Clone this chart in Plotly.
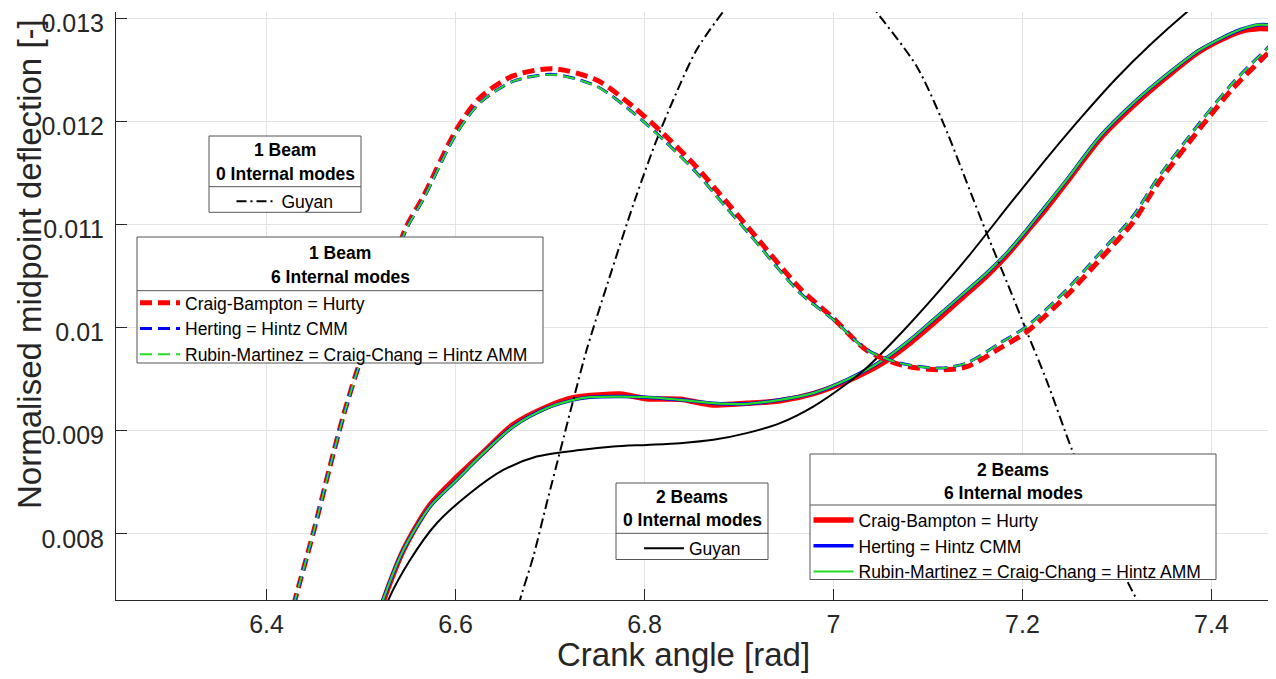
import plotly.graph_objects as go

# ---------------- data ----------------
# 1 Beam, 6 internal modes (dashed)
x_1b6 = [6.4196, 6.4302, 6.4495, 6.4672, 6.4813, 6.4989, 6.5233, 6.5466, 6.5656, 6.6013,
         6.6259, 6.6608, 6.7032, 6.7494, 6.7882, 6.8199, 6.8552, 6.8764, 6.9116, 6.9646,
         6.9998, 7.0351, 7.0704, 7.1127, 7.1410, 7.1762, 7.2045, 7.2468, 7.2820, 7.3169,
         7.3420, 7.3878, 7.4228, 7.4651, 7.4800]
y_1b6_cb = [0.00697, 0.00736, 0.00801, 0.008655, 0.009145, 0.00967, 0.01029, 0.01095, 0.011265, 0.011925,
            0.01223, 0.01244, 0.01251, 0.0124, 0.01214, 0.01188, 0.011555, 0.01133, 0.01095, 0.01038,
            0.01009, 0.00978, 0.00964, 0.00959, 0.00962, 0.0098, 0.00996, 0.01031, 0.01066, 0.01102,
            0.01138, 0.01193, 0.01232, 0.01271, 0.01285]
y_1b6_he = [0.00697, 0.007358, 0.008005, 0.008651, 0.009137, 0.009658, 0.010269, 0.010929, 0.011239, 0.011886,
            0.01218, 0.012387, 0.012455, 0.01234, 0.012082, 0.011823, 0.0115, 0.011273, 0.0109, 0.010336,
            0.010077, 0.009786, 0.009656, 0.009607, 0.009656, 0.00985, 0.010012, 0.010368, 0.010724, 0.011079,
            0.011435, 0.011988, 0.012376, 0.012764, 0.012902]
y_1b6_rm = [0.00697, 0.007358, 0.008005, 0.008651, 0.009137, 0.009658, 0.010269, 0.010929, 0.011239, 0.011886,
            0.01218, 0.012387, 0.012452, 0.012338, 0.01208, 0.011821, 0.011498, 0.011271, 0.010898, 0.010334,
            0.010075, 0.009784, 0.009655, 0.009606, 0.009655, 0.009849, 0.01001, 0.010366, 0.010722, 0.011077,
            0.011433, 0.011986, 0.012374, 0.012762, 0.0129]

# 1 Beam, 0 internal modes (Guyan, dash-dot); the peak lies above the visible range
x_1b0 = [6.6630, 6.6683, 6.6823, 6.6965, 6.7106, 6.7247, 6.7388, 6.7564, 6.7899, 6.8129,
         6.8305, 6.8552, 6.8834, None, 7.0365, 7.0457, 7.0881, 7.1162, 7.1479, 7.1621,
         7.1833, 7.2044, 7.2256, 7.2538, 7.2820, 7.3103, 7.3209, 7.3265]
y_1b0 = [0.007116, 0.007358, 0.007778, 0.008296, 0.008797, 0.009299, 0.009784, 0.0103, 0.011239, 0.011821,
         0.012209, 0.012694, 0.013066, None, 0.013177, 0.01306, 0.012532, 0.011983, 0.011245, 0.010915,
         0.010445, 0.009965, 0.009485, 0.008781, 0.008163, 0.007552, 0.007358, 0.007212]

# 2 Beams, 6 internal modes (solid)
x_2b6 = [6.5148, 6.5233, 6.5448, 6.5730, 6.6013, 6.6294, 6.6612, 6.6965, 6.7247, 6.7423,
         6.7741, 6.8023, 6.8376, 6.8728, 6.9081, 6.9434, 6.9786, 7.0140, 7.0527, 7.0810,
         7.1056, 7.1339, 7.1621, 7.1833, 7.2045, 7.2256, 7.2468, 7.2820, 7.3173, 7.3526,
         7.3878, 7.4302, 7.4513, 7.4683]
y_2b6_cb = [0.00710, 0.00734, 0.00784, 0.00828, 0.00855, 0.00879, 0.00906, 0.00923, 0.00932, 0.00934,
            0.009355, 0.00931, 0.009305, 0.00925, 0.009265, 0.00929, 0.00936, 0.00948, 0.00966, 0.00985,
            0.01004, 0.01027, 0.0105, 0.0107, 0.01093, 0.01116, 0.01141, 0.01183, 0.01215, 0.01243,
            0.01268, 0.01287, 0.0129, 0.01289]
y_2b6_he = [0.007116, 0.007358, 0.007843, 0.008263, 0.008522, 0.008782, 0.00904, 0.009218, 0.009299, 0.009325,
            0.009331, 0.009325, 0.009299, 0.009267, 0.00926, 0.009299, 0.009364, 0.009493, 0.009687, 0.009881,
            0.010075, 0.010301, 0.010528, 0.010722, 0.010948, 0.01119, 0.011433, 0.011853, 0.012177, 0.012452,
            0.012694, 0.012888, 0.012937, 0.012927]
y_2b6_rm = [0.007116, 0.007358, 0.007843, 0.008263, 0.008522, 0.008782, 0.00904, 0.009218, 0.009299, 0.009325,
            0.009331, 0.009325, 0.009299, 0.009267, 0.00926, 0.009299, 0.009364, 0.009493, 0.009687, 0.009881,
            0.010075, 0.010301, 0.010528, 0.010722, 0.010948, 0.01119, 0.011433, 0.011853, 0.012177, 0.012452,
            0.012694, 0.012888, 0.012937, 0.012927]

# 2 Beams, 0 internal modes (Guyan, solid black)
x_2b0 = [6.5201, 6.5289, 6.5519, 6.5801, 6.6153, 6.6506, 6.6859, 6.7317, 6.7670, 6.8023,
         6.8376, 6.8728, 6.9081, 6.9434, 6.9786, 7.0140, 7.0351, 7.0704, 7.1056, 7.1410,
         7.1903, 7.2291, 7.2643, 7.2997, 7.3349, 7.3741, 7.4000]
y_2b0 = [0.007116, 0.007358, 0.007746, 0.008102, 0.008393, 0.008619, 0.008749, 0.008812, 0.008846, 0.008862,
         0.008879, 0.008911, 0.008976, 0.009073, 0.009234, 0.009455, 0.00961, 0.009935, 0.01029, 0.01067,
         0.01124, 0.01168, 0.01206, 0.01242, 0.01274, 0.01306, 0.01325]

x_ticks = [6.4, 6.6, 6.8, 7.0, 7.2, 7.4]
x_ticktext = ["6.4", "6.6", "6.8", "7", "7.2", "7.4"]
y_ticks = [0.008, 0.009, 0.010, 0.011, 0.012, 0.013]
y_ticktext = ["0.008", "0.009", "0.01", "0.011", "0.012", "0.013"]

x_range = [6.2407, 7.4683]
y_range = [0.007358, 0.01306]

names_6 = ["Craig-Bampton = Hurty", "Herting = Hintz CMM", "Rubin-Martinez = Craig-Chang = Hintz AMM"]
x_title = "Crank angle [rad]"
y_title = "Normalised midpoint deflection [-]"

leg_titles = {
    "legend2": ["1 Beam", "0 Internal modes"],
    "legend": ["1 Beam", "6 Internal modes"],
    "legend3": ["2 Beams", "0 Internal modes"],
    "legend4": ["2 Beams", "6 Internal modes"],
}

# ---------------- styling / layout ----------------
RED, BLUE, GREEN, BLACK = "#ff0000", "#0000ff", "#22dd22", "#000000"
FONT = "Liberation Sans, Arial, sans-serif"
DASH = "12px,6px"
LFS = 17.5

# The page body has an 8px default margin: the figure is made 8px smaller so
# that the plot sits where it does in the reference window (1276x679).
OFF = 8
W, H = 1276 - OFF, 679 - OFF
PL, PR, PT, PB = 116, 1276, 12, 600          # plot area in window pixels
ML, MT = PL - OFF, PT - OFF
MR, MB = W - (PR - OFF), H - (PB - OFF)
PW, PH = PR - PL, PB - PT


def pxx(px):
    return (px - PL) / PW


def pxy(py):
    return (PB - py) / PH


boxes = {
    "legend2": dict(l=209, r=361, t=136, b=212.3, sep=186.7, ty=(150, 173.5), lx=231.5, ly=183.4),
    "legend": dict(l=137, r=543, t=237, b=363, sep=290.7, ty=(252.7, 276.7), lx=135, ly=284.8),
    "legend3": dict(l=616, r=768, t=483, b=559.5, sep=533.3, ty=(496.7, 520), lx=639, ly=530.4),
    "legend4": dict(l=810, r=1216, t=454, b=579.5, sep=505, ty=(470, 493), lx=808.5, ly=502.1),
}

fig = go.Figure()

for y, name, col, w in [(y_2b6_cb, names_6[0], RED, 5.5), (y_2b6_he, names_6[1], BLUE, 3.5),
                        (y_2b6_rm, names_6[2], GREEN, 2.2)]:
    fig.add_trace(go.Scatter(x=x_2b6, y=y, mode="lines", name=name, legend="legend4",
                             line=dict(color=col, width=w, shape="spline", smoothing=0.8)))

fig.add_trace(go.Scatter(x=x_2b0, y=y_2b0, mode="lines", name="Guyan", legend="legend3",
                         line=dict(color=BLACK, width=2, shape="spline", smoothing=0.8)))

fig.add_trace(go.Scatter(x=x_1b0, y=y_1b0, mode="lines", name="Guyan", legend="legend2",
                         connectgaps=False,
                         line=dict(color=BLACK, width=2, dash="10px,4px,2px,4px", shape="spline", smoothing=0.8)))

for y, name, col, w in [(y_1b6_cb, names_6[0], RED, 5), (y_1b6_he, names_6[1], BLUE, 3),
                        (y_1b6_rm, names_6[2], GREEN, 2)]:
    fig.add_trace(go.Scatter(x=x_1b6, y=y, mode="lines", name=name, legend="legend",
                             line=dict(color=col, width=w, dash=DASH, shape="spline", smoothing=0.8)))

shapes, annotations, legends = [], [], {}
for lid, bx in boxes.items():
    shapes.append(dict(type="rect", xref="paper", yref="paper",
                       x0=pxx(bx["l"]), x1=pxx(bx["r"]), y0=pxy(bx["b"]), y1=pxy(bx["t"]),
                       fillcolor="#ffffff", line=dict(color="#555555", width=1), layer="above"))
    shapes.append(dict(type="line", xref="paper", yref="paper",
                       x0=pxx(bx["l"]), x1=pxx(bx["r"]), y0=pxy(bx["sep"]), y1=pxy(bx["sep"]),
                       line=dict(color="#555555", width=1), layer="above"))
    for txt, ty in zip(leg_titles[lid], bx["ty"]):
        annotations.append(dict(text="<b>" + txt + "</b>", xref="paper", yref="paper",
                                x=pxx((bx["l"] + bx["r"]) / 2), y=pxy(ty), xanchor="center", yanchor="middle",
                                showarrow=False, font=dict(family=FONT, size=LFS, color="#000000")))
    legends[lid] = dict(x=pxx(bx["lx"]), y=pxy(bx["ly"]), xanchor="left", yanchor="top",
                        bgcolor="rgba(0,0,0,0)", borderwidth=0,
                        font=dict(family=FONT, size=LFS, color="#000000"),
                        itemwidth=40, tracegroupgap=0, traceorder="normal")

annotations.append(dict(text=x_title, xref="paper", yref="paper", x=pxx(683), y=pxy(654),
                        xanchor="center", yanchor="middle", showarrow=False,
                        font=dict(family=FONT, size=33, color="#262626")))
annotations.append(dict(text=y_title, xref="paper", yref="paper", x=pxx(29), y=pxy(264),
                        xanchor="center", yanchor="middle", showarrow=False, textangle=-90,
                        font=dict(family=FONT, size=33, color="#262626")))

fig.update_layout(
    width=W, height=H,
    margin=dict(l=ML, r=MR, t=MT, b=MB, pad=0, autoexpand=False),
    plot_bgcolor="#ffffff", paper_bgcolor="#ffffff",
    font=dict(family=FONT, color="#262626"),
    showlegend=True,
    shapes=shapes, annotations=annotations,
    xaxis=dict(range=x_range, tickvals=x_ticks, ticktext=x_ticktext, automargin=False,
               showgrid=True, gridcolor="#e3e3e3", gridwidth=1, zeroline=False,
               showline=True, linecolor="#262626", linewidth=1, ticklabeloverflow="allow",
               ticks="inside", ticklen=11, tickcolor="#262626", ticklabelstandoff=2,
               tickfont=dict(family=FONT, size=25, color="#262626")),
    yaxis=dict(range=y_range, tickvals=y_ticks, ticktext=y_ticktext, automargin=False,
               showgrid=True, gridcolor="#e3e3e3", gridwidth=1, zeroline=False,
               showline=True, linecolor="#262626", linewidth=1, ticklabeloverflow="allow",
               ticks="inside", ticklen=11, tickcolor="#262626", ticklabelstandoff=6,
               ticklabelshift=5,
               tickfont=dict(family=FONT, size=25, color="#262626")),
    **legends,
)

fig.write_html("out.html")
